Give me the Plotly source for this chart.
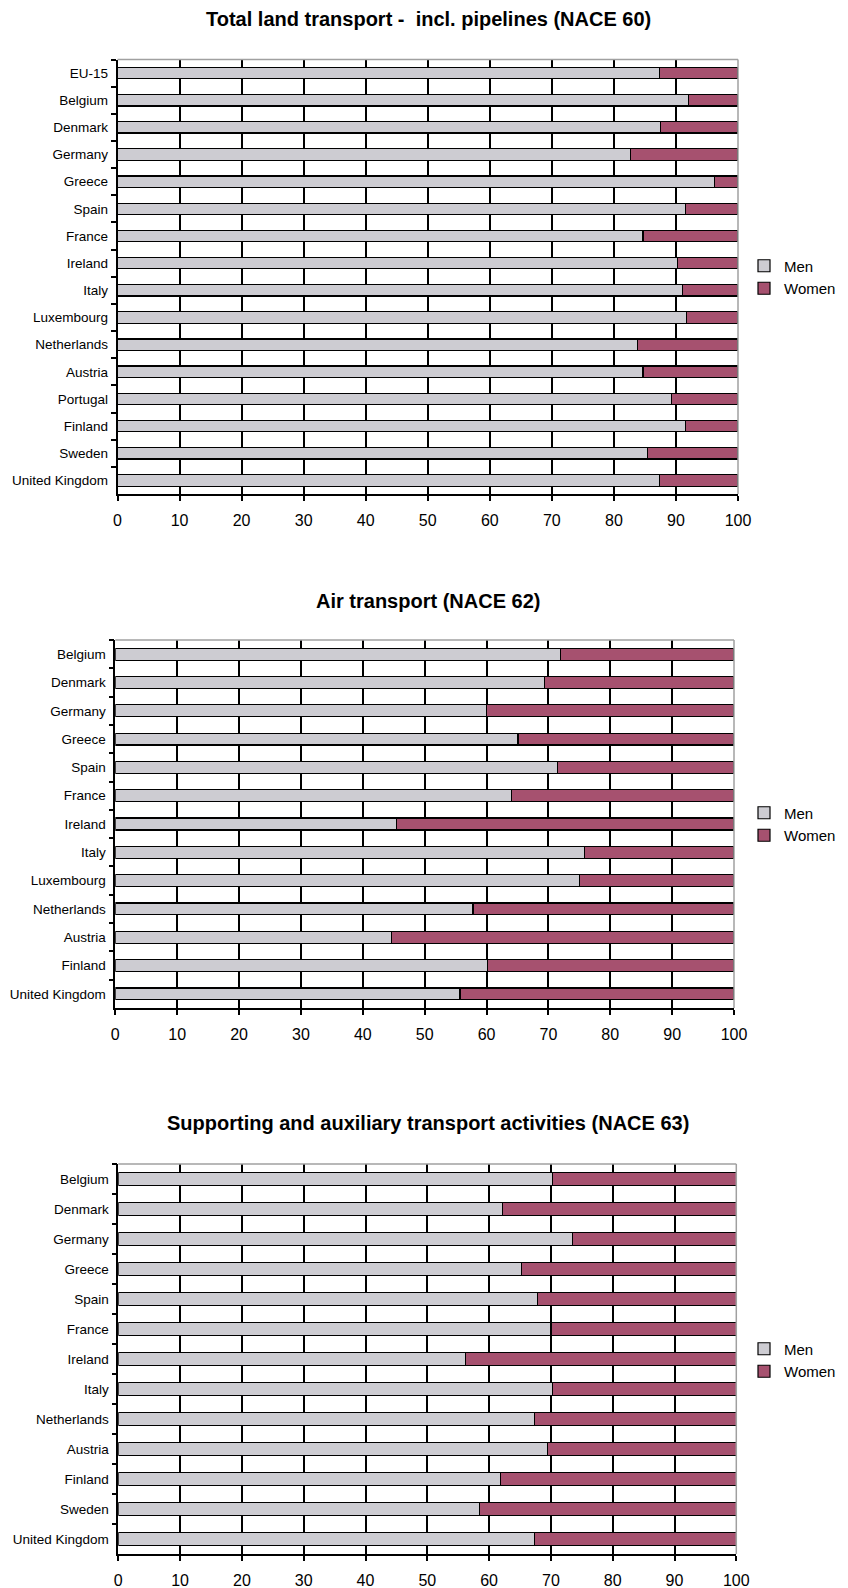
import plotly.graph_objects as go

# ---------------- data ----------------
land_countries = ["EU-15", "Belgium", "Denmark", "Germany", "Greece", "Spain", "France",
                  "Ireland", "Italy", "Luxembourg", "Netherlands", "Austria", "Portugal",
                  "Finland", "Sweden", "United Kingdom"]
land_men = [87.4, 92.0, 87.5, 82.7, 96.2, 91.6, 84.7, 90.3, 91.0, 91.7, 83.8, 84.7, 89.3, 91.6, 85.4, 87.4]

air_countries = ["Belgium", "Denmark", "Germany", "Greece", "Spain", "France", "Ireland",
                 "Italy", "Luxembourg", "Netherlands", "Austria", "Finland", "United Kingdom"]
air_men = [71.9, 69.4, 60.0, 65.1, 71.5, 64.1, 45.5, 75.8, 75.0, 57.8, 44.6, 60.2, 55.7]

sup_countries = ["Belgium", "Denmark", "Germany", "Greece", "Spain", "France", "Ireland",
                 "Italy", "Netherlands", "Austria", "Finland", "Sweden", "United Kingdom"]
sup_men = [70.2, 62.2, 73.5, 65.2, 67.8, 70.0, 56.2, 70.3, 67.4, 69.5, 61.9, 58.5, 67.4]

land_women = [round(100 - v, 1) for v in land_men]
air_women = [round(100 - v, 1) for v in air_men]
sup_women = [round(100 - v, 1) for v in sup_men]

titles = ["Total land transport -  incl. pipelines (NACE 60)",
          "Air transport (NACE 62)",
          "Supporting and auxiliary transport activities (NACE 63)"]
x_ticks = [0, 10, 20, 30, 40, 50, 60, 70, 80, 90, 100]
series_names = ["Men", "Women"]

# ---------------- style / layout ----------------
OFF = 8                     # page body margin
W, H = 848 - OFF, 1588 - OFF
FONT = "Arial, Liberation Sans, sans-serif"
MEN_C = "#CDCCD2"
WOMEN_C = "#A6516F"


def px_x(p):
    return (p - OFF) / W


def px_y(p):
    return 1 - (p - OFF) / H


panels = [
    dict(cats=land_countries, men=land_men, women=land_women,
         x=(117.5, 738.0), y=(59.5, 494.0), title_y=18.5, leg_y=277),
    dict(cats=air_countries, men=air_men, women=air_women,
         x=(115.3, 734.0), y=(640.0, 1008.0), title_y=601, leg_y=824),
    dict(cats=sup_countries, men=sup_men, women=sup_women,
         x=(118.3, 736.3), y=(1164.0, 1554.0), title_y=1123, leg_y=1360),
]

fig = go.Figure()
layout = dict(width=W, height=H,
              margin=dict(l=0, r=0, t=0, b=0, autoexpand=False),
              paper_bgcolor="white", plot_bgcolor="white",
              barmode="stack", showlegend=True,
              font=dict(family=FONT, color="black"))
annotations = []
shapes = []

for i, p in enumerate(panels):
    n = "" if i == 0 else str(i + 1)
    xa, ya = "x" + n, "y" + n
    leg = "legend" + n
    for name, vals, col in ((series_names[0], p["men"], MEN_C), (series_names[1], p["women"], WOMEN_C)):
        fig.add_trace(go.Bar(
            x=vals, y=p["cats"], orientation="h", name=name,
            xaxis=xa, yaxis=ya, legend=leg, width=0.42,
            marker=dict(color=col, line=dict(color="black", width=1.2)),
            hoverinfo="x+y+name",
        ))
    layout["xaxis" + n] = dict(
        domain=[px_x(p["x"][0]), px_x(p["x"][1])], anchor=ya,
        range=[0, 100], tickvals=x_ticks, ticktext=[str(v) for v in x_ticks],
        showgrid=True, gridcolor="black", gridwidth=1.5, zeroline=False,
        showline=True, linecolor="black", linewidth=1.5,
        ticks="outside", ticklen=5, tickcolor="black", tickwidth=1.5,
        tickfont=dict(size=16, family=FONT, color="black"),
        ticklabelstandoff=6, fixedrange=True, automargin=False,
    )
    layout["yaxis" + n] = dict(
        domain=[px_y(p["y"][1]), px_y(p["y"][0])], anchor=xa,
        autorange="reversed", type="category",
        showgrid=False, zeroline=False,
        showline=True, linecolor="black", linewidth=1.5,
        ticks="outside", tickson="boundaries", ticklen=5, tickcolor="black", tickwidth=1.5,
        tickfont=dict(size=13.5, family=FONT, color="black"),
        ticklabelstandoff=5, fixedrange=True, automargin=False,
    )
    layout[leg] = dict(
        x=px_x(784 - 40), xanchor="left",
        y=px_y(p["leg_y"]), yanchor="middle",
        traceorder="normal",
        font=dict(size=15, family=FONT, color="black"),
        bgcolor="rgba(0,0,0,0)", borderwidth=0, tracegroupgap=0,
        itemclick=False, itemdoubleclick=False,
    )
    # grey plot-area frame (top and right edges)
    shapes.append(dict(type="line", xref=xa + " domain", yref=ya + " domain",
                       x0=0, x1=1, y0=1, y1=1, line=dict(color="#A0A0A0", width=1.5)))
    shapes.append(dict(type="line", xref=xa + " domain", yref=ya + " domain",
                       x0=1, x1=1, y0=0, y1=1, line=dict(color="#A0A0A0", width=1.5)))
    annotations.append(dict(
        text="<b>" + titles[i] + "</b>", x=px_x(428), y=px_y(p["title_y"]),
        xref="paper", yref="paper", xanchor="center", yanchor="middle",
        showarrow=False, font=dict(size=20, family=FONT, color="black"),
    ))

layout["annotations"] = annotations
layout["shapes"] = shapes
fig.update_layout(**layout)

fig.write_html("out.html")
